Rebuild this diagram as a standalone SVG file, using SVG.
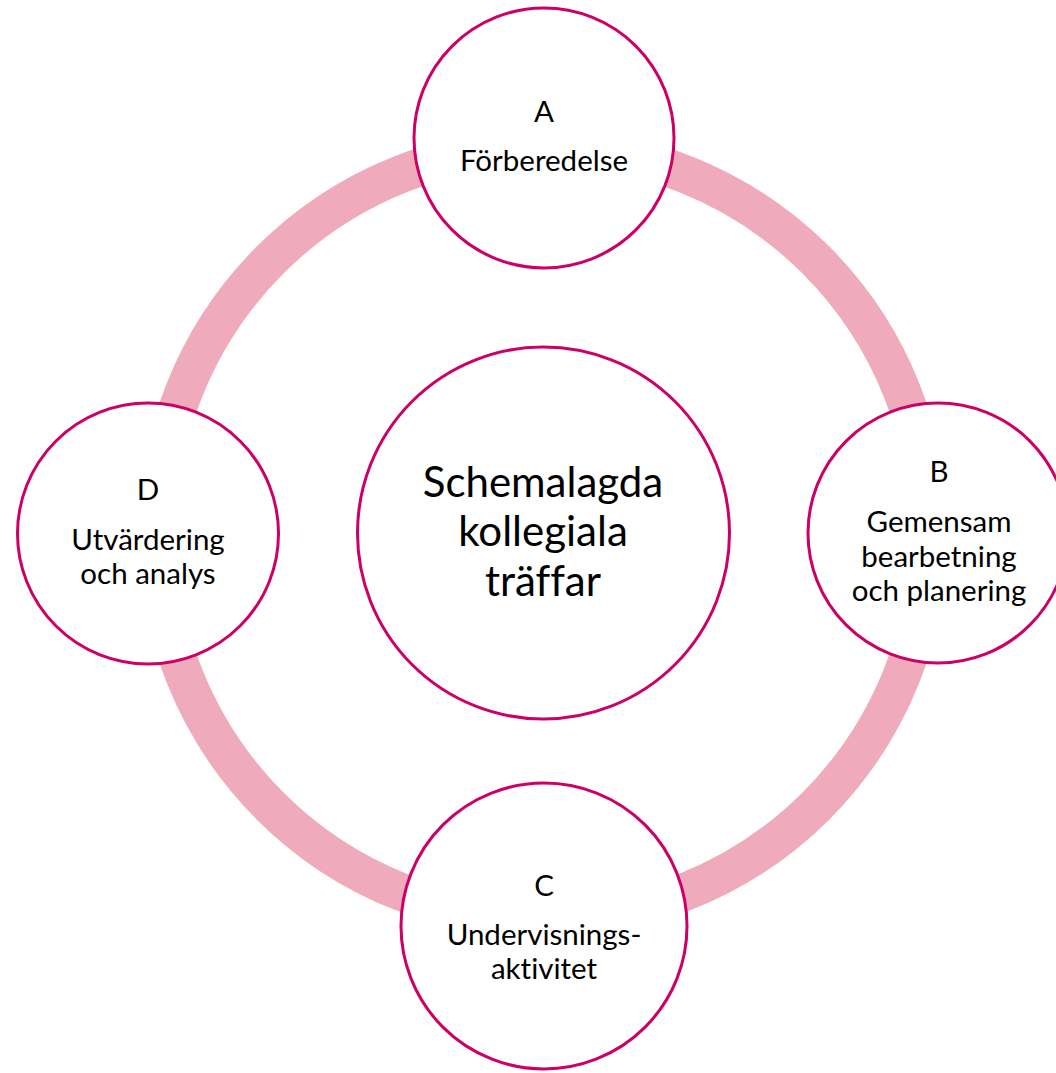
<svg xmlns="http://www.w3.org/2000/svg" width="1056" height="1073" viewBox="0 0 1056 1073">
<style>
.node{fill:#FFFFFF;stroke:#CC0066;stroke-width:3}
.ring{fill:none;stroke:#EFAABC;stroke-width:38}
text{font-family:Lato,"Open Sans","Liberation Sans",sans-serif;fill:#000000;text-anchor:middle;font-variant-ligatures:none;font-feature-settings:"liga" 0,"clig" 0,"dlig" 0}
.s{font-size:29.5px}
.b{font-size:42px}
</style>
<rect width="1056" height="1073" fill="#FFFFFF"/>
<g id="connectors">
<circle class="ring" cx="543" cy="533" r="386"/>
</g>
<g id="node-center">
<circle class="node" cx="543.5" cy="533" r="186"/>
<text class="b" x="543" y="497">Schemalagda</text>
<text class="b" x="543" y="546">kollegiala</text>
<text class="b" x="543" y="596">träffar</text>
</g>
<g id="node-a">
<circle class="node" cx="544" cy="138" r="130"/>
<text class="s" x="544" y="122">A</text>
<text class="s" x="544" y="171">Förberedelse</text>
</g>
<g id="node-b">
<circle class="node" cx="938" cy="533" r="130"/>
<text class="s" x="939" y="482">B</text>
<text class="s" x="939" y="532">Gemensam</text>
<text class="s" x="939" y="567">bearbetning</text>
<text class="s" x="939" y="601">och planering</text>
</g>
<g id="node-c">
<circle class="node" cx="544" cy="926" r="143"/>
<text class="s" x="544" y="896">C</text>
<text class="s" x="544" y="945">Undervisnings-</text>
<text class="s" x="544" y="979">aktivitet</text>
</g>
<g id="node-d">
<circle class="node" cx="148" cy="533.5" r="130.5"/>
<text class="s" x="148" y="500">D</text>
<text class="s" x="148" y="550">Utvärdering</text>
<text class="s" x="148" y="584">och analys</text>
</g>
</svg>
